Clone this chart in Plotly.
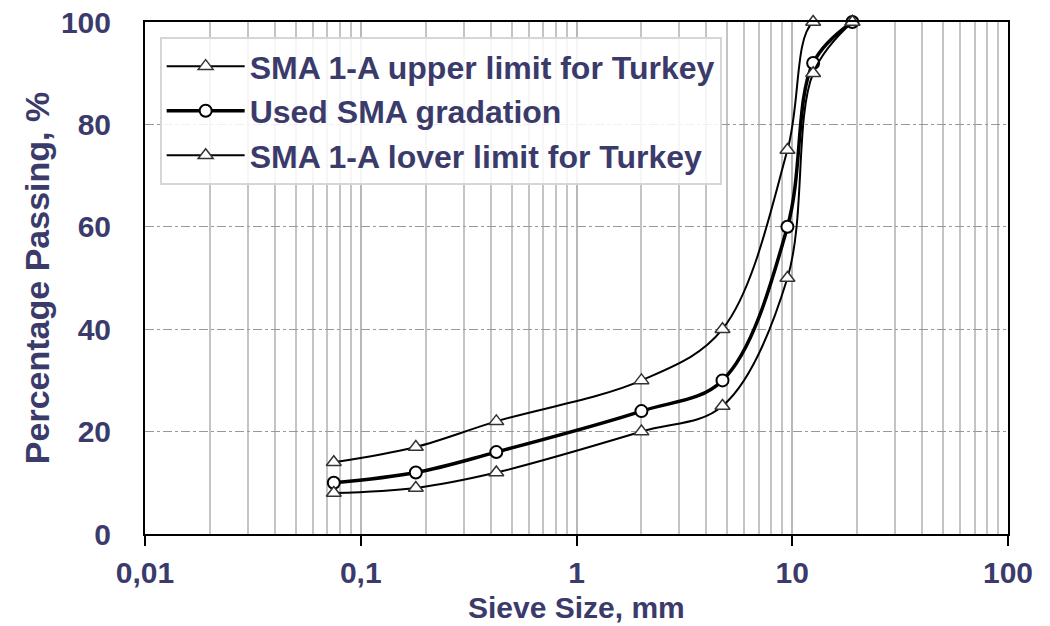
import plotly.graph_objects as go

sieve_mm = [0.075, 0.18, 0.425, 2, 4.75, 9.5, 12.5, 19]
upper_limit = [14, 17, 22, 30, 40, 75, 100, 100]
used_gradation = [10, 12, 16, 24, 30, 60, 92, 100]
lower_limit = [8, 9, 12, 20, 25, 50, 90, 100]

x_tick_vals = [0.01, 0.1, 1, 10, 100]
x_tick_text = ["0,01", "0,1", "1", "10", "100"]
y_tick_vals = [0, 20, 40, 60, 80, 100]

minor_vals = [m * d for d in [0.01, 0.1, 1, 10] for m in range(2, 10)]

navy = "#3b3b6b"
font_family = "Liberation Sans, Arial, sans-serif"
bold = dict(family=font_family, color=navy, weight="bold")

fig = go.Figure()
fig.add_trace(go.Scatter(
    x=sieve_mm, y=upper_limit, name="SMA 1-A upper limit for Turkey",
    mode="lines+markers", line=dict(color="black", width=2, shape="spline", smoothing=1),
    marker=dict(symbol="triangle-up", size=13, color="white", line=dict(width=1.5, color="#333333")),
    cliponaxis=False))
fig.add_trace(go.Scatter(
    x=sieve_mm, y=used_gradation, name="Used SMA gradation",
    mode="lines+markers", line=dict(color="black", width=3.5, shape="spline", smoothing=1),
    marker=dict(symbol="circle", size=12, color="white", line=dict(width=2, color="black")),
    cliponaxis=False))
fig.add_trace(go.Scatter(
    x=sieve_mm, y=lower_limit, name="SMA 1-A lover limit for Turkey",
    mode="lines+markers", line=dict(color="black", width=2, shape="spline", smoothing=1),
    marker=dict(symbol="triangle-up", size=13, color="white", line=dict(width=1.5, color="#333333")),
    cliponaxis=False))

fig.update_layout(
    width=1050, height=626,
    margin=dict(l=137, r=50, t=14, b=100),
    plot_bgcolor="white", paper_bgcolor="white",
    font=dict(family=font_family, color=navy, size=30, weight="bold"),
    showlegend=True,
    legend=dict(x=0.017, y=0.971, xanchor="left", yanchor="top",
                bgcolor="rgba(255,255,255,0.85)", bordercolor="#d6d6d6", borderwidth=2,
                font=dict(size=32, **bold),
                itemwidth=78, tracegroupgap=0),
    xaxis=dict(
        type="log", range=[-2, 2], automargin=False,
        tickvals=x_tick_vals, ticktext=x_tick_text,
        tickfont=dict(size=30, **bold), ticklabeloverflow="allow",
        ticks="outside", ticklen=10, tickwidth=2, tickcolor="black",
        ticklabelstandoff=1,
        showgrid=True, gridcolor="#b8b8b8", gridwidth=1.5,
        minor=dict(tickvals=minor_vals, showgrid=True, gridcolor="#c4c4c4", gridwidth=1.5, ticks=""),
        showline=True, linecolor="black", linewidth=2, mirror=True,
    ),
    yaxis=dict(
        range=[0, 100], tickvals=y_tick_vals, automargin=False,
        tickfont=dict(size=30, **bold), ticklabeloverflow="allow",
        ticks="", ticklabelstandoff=26,
        showgrid=True, gridcolor="#999999", gridwidth=1, griddash="dashdot",
        zeroline=True, zerolinecolor="black", zerolinewidth=4,
        showline=True, linecolor="black", linewidth=2, mirror=True,
    ),
    annotations=[
        dict(text="Sieve Size, mm", xref="paper", yref="paper", x=0.5, y=-0.1426,
             xanchor="center", yanchor="middle", showarrow=False,
             font=dict(size=30, **bold)),
        dict(text="Percentage Passing, %", xref="paper", yref="paper", x=-0.125, y=0.5,
             xanchor="center", yanchor="middle", showarrow=False, textangle=-90,
             font=dict(size=34, **bold)),
    ],
)

fig.write_html("out.html")
